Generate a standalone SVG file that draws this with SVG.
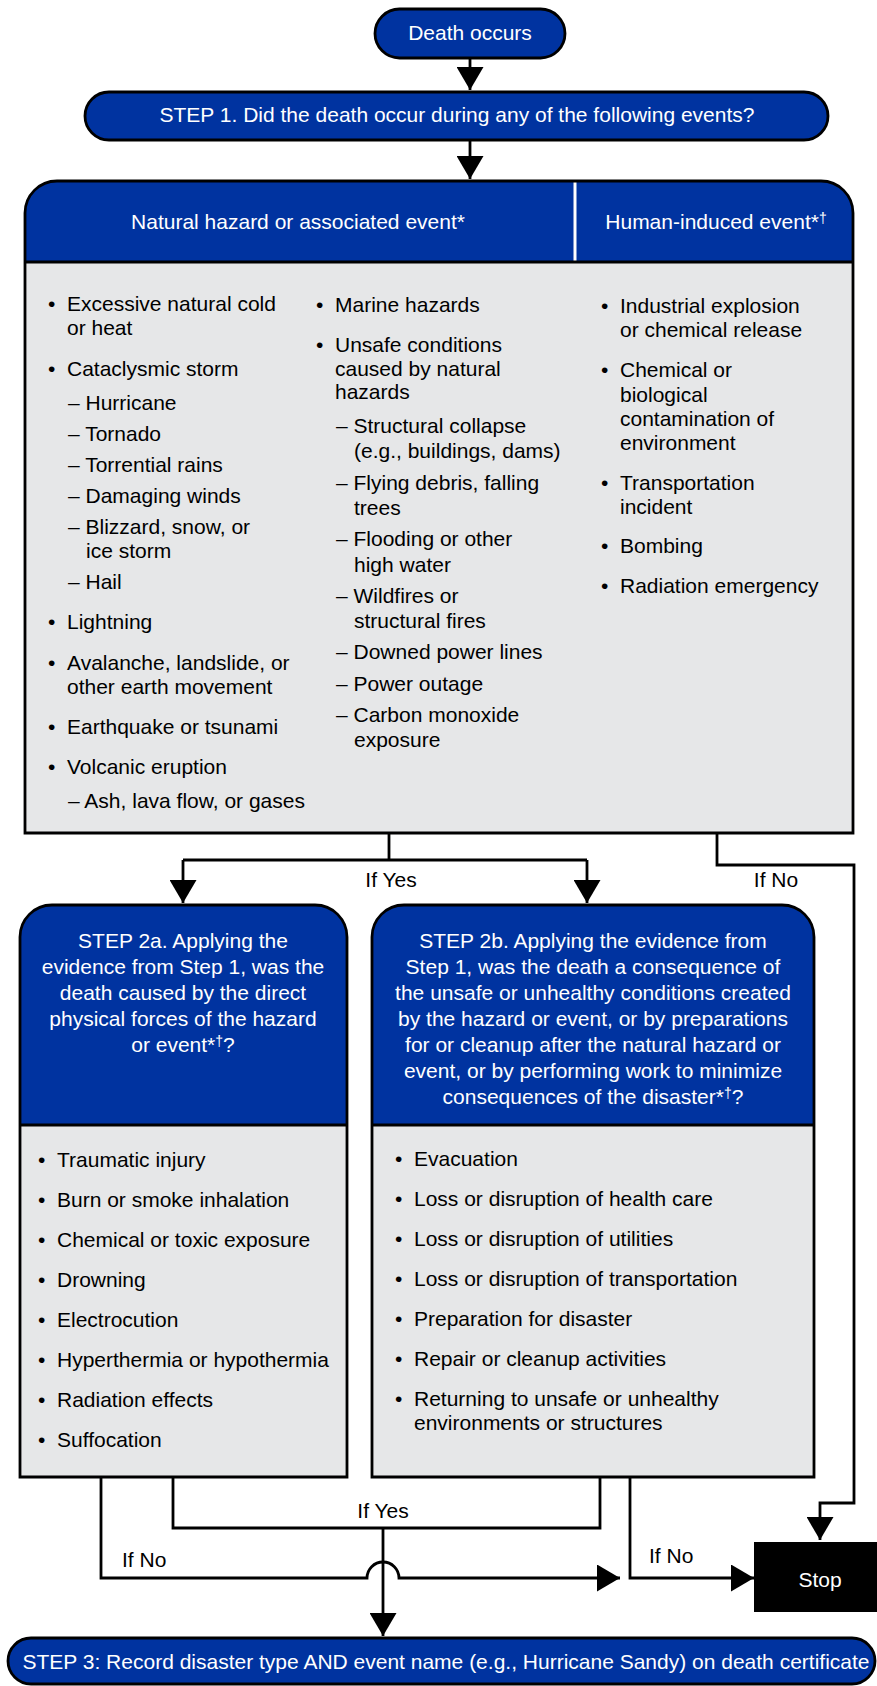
<svg xmlns="http://www.w3.org/2000/svg" width="877" height="1686" viewBox="0 0 877 1686">
<style>
text{font-family:"Liberation Sans",Arial,sans-serif;font-size:21px;fill:#000}
.w{fill:#fff}
.c{text-anchor:middle}
.blue{fill:#0033a0;stroke:#000;stroke-width:2.8}
.hdr{fill:#0033a0}
.body{fill:#e6e7e8}
.ol{fill:none;stroke:#000;stroke-width:2.8}
.ln{fill:none;stroke:#000;stroke-width:2.8}
.sup{font-size:14px}
</style>
<defs>
<marker id="ah" markerUnits="userSpaceOnUse" markerWidth="24" markerHeight="27" refX="23" refY="13.5" orient="auto" viewBox="0 0 24 27">
<path d="M0,0 L23,13.5 L0,27 Z" fill="#000"/>
</marker>
</defs>

<g id="connectors">
<path class="ln" d="M470,58 V90" marker-end="url(#ah)"/>
<path class="ln" d="M470,140 V179" marker-end="url(#ah)"/>
<path class="ln" d="M389,833 V860"/>
<path class="ln" d="M183,860 H587"/>
<path class="ln" d="M183,860 V903" marker-end="url(#ah)"/>
<path class="ln" d="M587,860 V903" marker-end="url(#ah)"/>
<path class="ln" d="M717,833 V865 H854 V1503 H820 V1540" marker-end="url(#ah)"/>
<path class="ln" d="M101,1477 V1578 H367 A16,16 0 0 1 399,1578 H620" marker-end="url(#ah)"/>
<path class="ln" d="M173,1477 V1528 H600 V1477"/>
<path class="ln" d="M383,1528 V1636" marker-end="url(#ah)"/>
<path class="ln" d="M630,1477 V1578 H754" marker-end="url(#ah)"/>
<text class="c" x="391" y="887">If Yes</text>
<text class="c" x="776" y="887">If No</text>
<text class="c" x="383" y="1518">If Yes</text>
<text x="122" y="1567">If No</text>
<text x="649" y="1563">If No</text>
</g>

<g id="death-occurs">
<rect class="blue" x="375" y="9" width="190" height="49" rx="24.5"/>
<text class="w c" x="470" y="40">Death occurs</text>
</g>

<g id="step1">
<rect class="blue" x="85" y="92" width="743" height="48" rx="24"/>
<text class="w c" x="457" y="122">STEP 1. Did the death occur during any of the following events?</text>
</g>

<g id="events">
<path class="body" d="M25,833 V213 A32,32 0 0 1 57,181 H821 A32,32 0 0 1 853,213 V833 Z"/>
<path class="hdr" d="M25,262 V213 A32,32 0 0 1 57,181 H821 A32,32 0 0 1 853,213 V262 Z"/>
<line x1="575" y1="182" x2="575" y2="261" stroke="#fff" stroke-width="3"/>
<line class="ln" x1="25" y1="262" x2="853" y2="262"/>
<path class="ol" d="M25,833 V213 A32,32 0 0 1 57,181 H821 A32,32 0 0 1 853,213 V833 Z"/>
<text class="w c" x="298" y="229">Natural hazard or associated event*</text>
<text class="w c" x="716" y="229">Human-induced event*<tspan class="sup" baseline-shift="6">†</tspan></text>

<text x="48" y="311">•</text><text x="67" y="311">Excessive natural cold</text>
<text x="67" y="335">or heat</text>
<text x="48" y="376">•</text><text x="67" y="376">Cataclysmic storm</text>
<text x="68" y="410">– Hurricane</text>
<text x="68" y="441">– Tornado</text>
<text x="68" y="472">– Torrential rains</text>
<text x="68" y="503">– Damaging winds</text>
<text x="68" y="534">– Blizzard, snow, or</text>
<text x="86" y="558">ice storm</text>
<text x="68" y="589">– Hail</text>
<text x="48" y="629">•</text><text x="67" y="629">Lightning</text>
<text x="48" y="670">•</text><text x="67" y="670">Avalanche, landslide, or</text>
<text x="67" y="694">other earth movement</text>
<text x="48" y="734">•</text><text x="67" y="734">Earthquake or tsunami</text>
<text x="48" y="774">•</text><text x="67" y="774">Volcanic eruption</text>
<text x="68" y="808">– Ash, lava flow, or gases</text>

<text x="316" y="312">•</text><text x="335" y="312">Marine hazards</text>
<text x="316" y="352">•</text><text x="335" y="352">Unsafe conditions</text>
<text x="335" y="376">caused by natural</text>
<text x="335" y="399">hazards</text>
<text x="336" y="433">– Structural collapse</text>
<text x="354" y="458">(e.g., buildings, dams)</text>
<text x="336" y="490">– Flying debris, falling</text>
<text x="354" y="515">trees</text>
<text x="336" y="546">– Flooding or other</text>
<text x="354" y="572">high water</text>
<text x="336" y="603">– Wildfires or</text>
<text x="354" y="628">structural fires</text>
<text x="336" y="659">– Downed power lines</text>
<text x="336" y="691">– Power outage</text>
<text x="336" y="722">– Carbon monoxide</text>
<text x="354" y="747">exposure</text>

<text x="601" y="313">•</text><text x="620" y="313">Industrial explosion</text>
<text x="620" y="337">or chemical release</text>
<text x="601" y="377">•</text><text x="620" y="377">Chemical or</text>
<text x="620" y="402">biological</text>
<text x="620" y="426">contamination of</text>
<text x="620" y="450">environment</text>
<text x="601" y="490">•</text><text x="620" y="490">Transportation</text>
<text x="620" y="514">incident</text>
<text x="601" y="553">•</text><text x="620" y="553">Bombing</text>
<text x="601" y="593">•</text><text x="620" y="593">Radiation emergency</text>
</g>

<g id="step2a">
<path class="body" d="M20,1477 V937 A32,32 0 0 1 52,905 H315 A32,32 0 0 1 347,937 V1477 Z"/>
<path class="hdr" d="M20,1125 V937 A32,32 0 0 1 52,905 H315 A32,32 0 0 1 347,937 V1125 Z"/>
<line class="ln" x1="20" y1="1125" x2="347" y2="1125"/>
<path class="ol" d="M20,1477 V937 A32,32 0 0 1 52,905 H315 A32,32 0 0 1 347,937 V1477 Z"/>
<text class="w c" x="183" y="948">STEP 2a. Applying the</text>
<text class="w c" x="183" y="974">evidence from Step 1, was the</text>
<text class="w c" x="183" y="1000">death caused by the direct</text>
<text class="w c" x="183" y="1026">physical forces of the hazard</text>
<text class="w c" x="183" y="1052">or event*<tspan class="sup" baseline-shift="6">†</tspan>?</text>
<text x="38" y="1167">•</text><text x="57" y="1167">Traumatic injury</text>
<text x="38" y="1207">•</text><text x="57" y="1207">Burn or smoke inhalation</text>
<text x="38" y="1247">•</text><text x="57" y="1247">Chemical or toxic exposure</text>
<text x="38" y="1287">•</text><text x="57" y="1287">Drowning</text>
<text x="38" y="1327">•</text><text x="57" y="1327">Electrocution</text>
<text x="38" y="1367">•</text><text x="57" y="1367">Hyperthermia or hypothermia</text>
<text x="38" y="1407">•</text><text x="57" y="1407">Radiation effects</text>
<text x="38" y="1447">•</text><text x="57" y="1447">Suffocation</text>
</g>

<g id="step2b">
<path class="body" d="M372,1477 V937 A32,32 0 0 1 404,905 H782 A32,32 0 0 1 814,937 V1477 Z"/>
<path class="hdr" d="M372,1125 V937 A32,32 0 0 1 404,905 H782 A32,32 0 0 1 814,937 V1125 Z"/>
<line class="ln" x1="372" y1="1125" x2="814" y2="1125"/>
<path class="ol" d="M372,1477 V937 A32,32 0 0 1 404,905 H782 A32,32 0 0 1 814,937 V1477 Z"/>
<text class="w c" x="593" y="948">STEP 2b. Applying the evidence from</text>
<text class="w c" x="593" y="974">Step 1, was the death a consequence of</text>
<text class="w c" x="593" y="1000">the unsafe or unhealthy conditions created</text>
<text class="w c" x="593" y="1026">by the hazard or event, or by preparations</text>
<text class="w c" x="593" y="1052">for or cleanup after the natural hazard or</text>
<text class="w c" x="593" y="1078">event, or by performing work to minimize</text>
<text class="w c" x="593" y="1104">consequences of the disaster*<tspan class="sup" baseline-shift="6">†</tspan>?</text>
<text x="395" y="1166">•</text><text x="414" y="1166">Evacuation</text>
<text x="395" y="1206">•</text><text x="414" y="1206">Loss or disruption of health care</text>
<text x="395" y="1246">•</text><text x="414" y="1246">Loss or disruption of utilities</text>
<text x="395" y="1286">•</text><text x="414" y="1286">Loss or disruption of transportation</text>
<text x="395" y="1326">•</text><text x="414" y="1326">Preparation for disaster</text>
<text x="395" y="1366">•</text><text x="414" y="1366">Repair or cleanup activities</text>
<text x="395" y="1406">•</text><text x="414" y="1406">Returning to unsafe or unhealthy</text>
<text x="414" y="1430">environments or structures</text>
</g>

<g id="stop">
<rect x="754" y="1542" width="124" height="70" fill="#000"/>
<text class="w c" x="820" y="1587">Stop</text>
</g>

<g id="step3">
<rect class="blue" x="8" y="1638" width="867" height="46" rx="23"/>
<text class="w c" x="446" y="1669">STEP 3: Record disaster type AND event name (e.g., Hurricane Sandy) on death certificate</text>
</g>
</svg>
